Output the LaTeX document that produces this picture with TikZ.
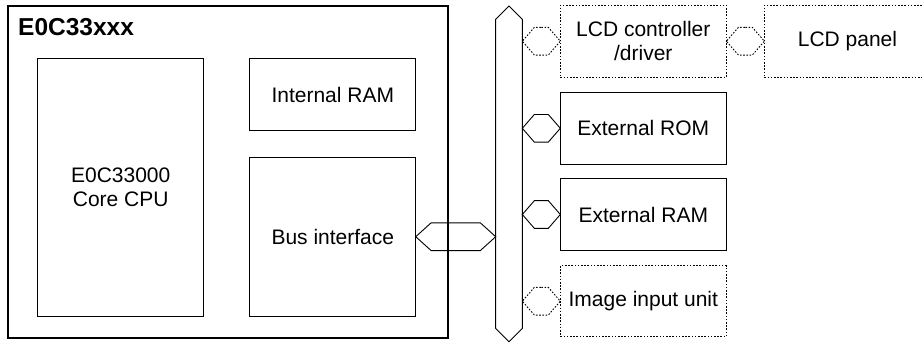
\documentclass[tikz,border=0pt]{standalone}
\usepackage{fontspec}
\setmainfont{Liberation Sans}
\usetikzlibrary{shapes.symbols, positioning, calc}

\begin{document}
\begin{tikzpicture}[
    x=1pt, y=-1pt,
    font=\fontsize{21}{24}\selectfont,
    chip/.style={rectangle, draw, line width=2pt, minimum width=440pt, minimum height=332pt, anchor=north west},
    block/.style={rectangle, draw, line width=0.9pt, minimum width=166pt, minimum height=72pt, align=center, inner sep=0pt},
    option/.style={block, dash pattern=on 1.6pt off 1.6pt},
    bus/.style={signal, signal to=north and south, signal pointer angle=90, draw, line width=0.9pt, minimum width=26.7pt, minimum height=309pt, inner sep=0pt},
    link/.style={signal, signal to=east and west, signal pointer angle=98, draw, line width=0.9pt, minimum width=38pt, minimum height=27.7pt, inner sep=0pt},
    optlink/.style={link, dash pattern=on 1.6pt off 1.6pt}
]
    \useasboundingbox (0,0) rectangle (922,343);

    \node[chip] (chip) at (7,5) {};
    \node[font=\fontsize{24.5}{24}\selectfont\bfseries, anchor=base west, inner sep=0pt] (title) at (18,35) {E0C33xxx};
    \node[block, minimum height=257.3pt] (cpu) at (120.7,187.3) {E0C33000\\Core CPU};
    \node[block] (iram) at (332.8,94.7) {Internal RAM};
    \node[block, minimum height=158.7pt] (bif) at (332.8,236.7) {Bus interface};

    \node[bus] (bus) at (509,173.8) {};

    \node[option] (lcdc) at (643.3,41.2) {LCD controller\\/driver};
    \node[block] (erom) at (643.3,128.3) {External ROM};
    \node[block] (eram) at (643.3,214.5) {External RAM};
    \node[option, minimum height=71pt] (img) at (643.3,301.2) {Image input unit};
    \node[option, anchor=west] (panel) at (764,41.2) {LCD panel};

    \node[link, minimum width=80pt, signal pointer angle=84] (biflink) at ($(bif.east)!0.5!(bif.east -| bus.west)$) {};
    \node[optlink] (lcdclink) at ($(lcdc.west)!0.5!(lcdc.west -| bus.east)$) {};
    \node[link] (eromlink) at ($(erom.west)!0.5!(erom.west -| bus.east)$) {};
    \node[link] (eramlink) at ($(eram.west)!0.5!(eram.west -| bus.east)$) {};
    \node[optlink] (imglink) at ($(img.west)!0.5!(img.west -| bus.east)$) {};
    \node[optlink] (panellink) at ($(lcdc.east)!0.5!(panel.west)$) {};
\end{tikzpicture}
\end{document}
